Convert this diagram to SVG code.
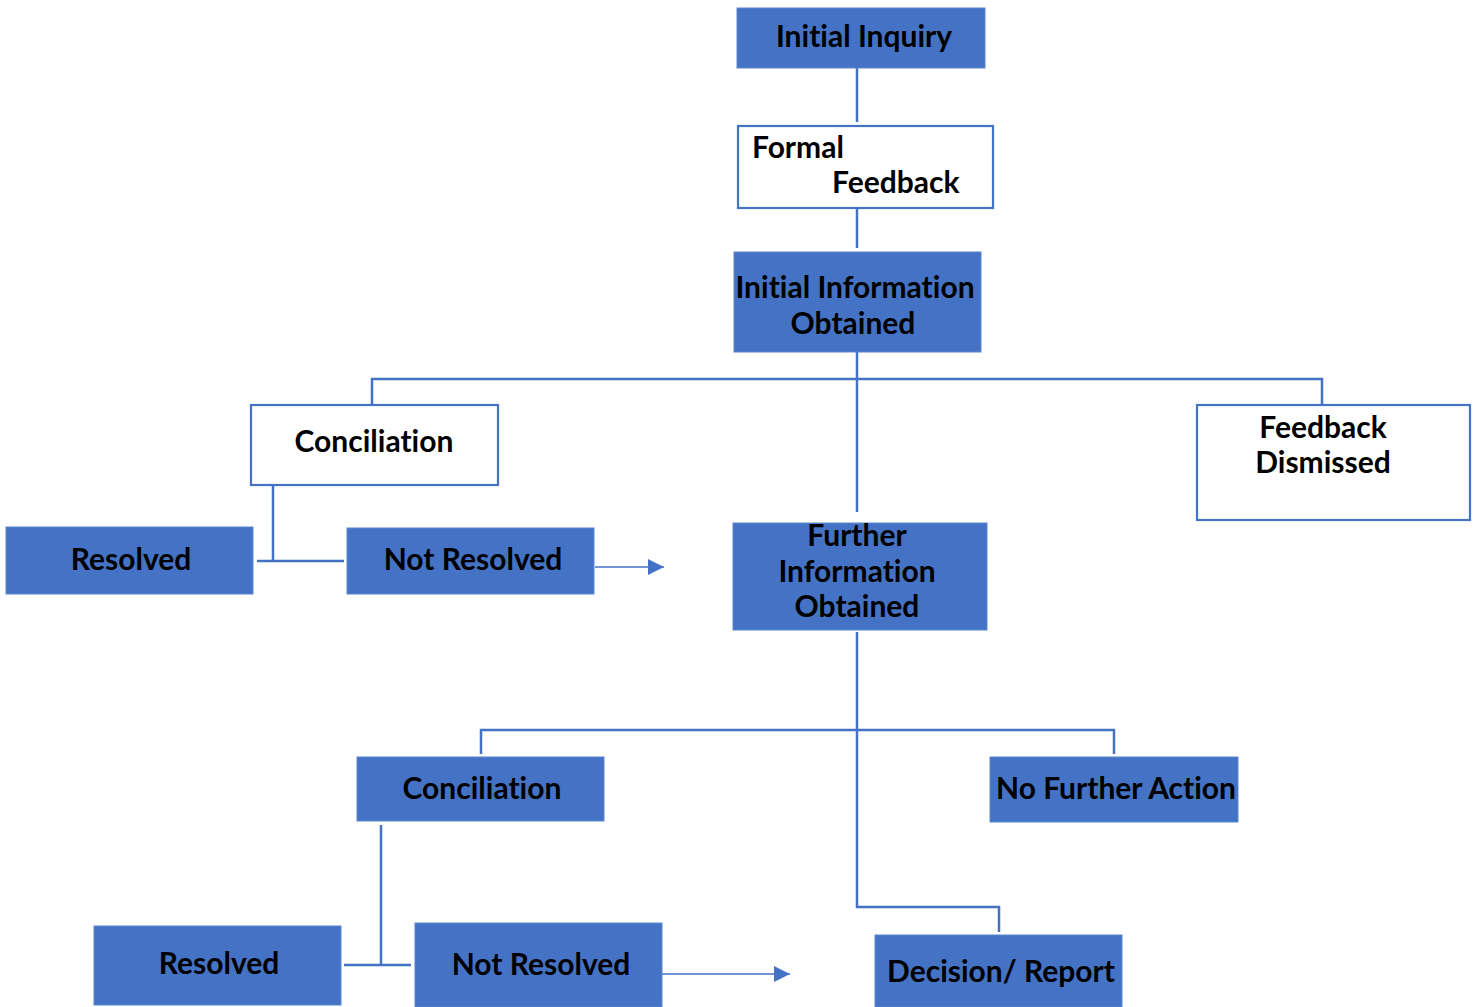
<svg xmlns="http://www.w3.org/2000/svg" width="1478" height="1007" viewBox="0 0 1478 1007">
<style>
.b{fill:#4472C4;stroke:#5B86CF;stroke-width:1}
.w{fill:#fff;stroke:#4472C4;stroke-width:2.2}
.t{font-family:Lato,"Open Sans",sans-serif;font-weight:bold;font-size:30px;fill:#000;font-variant-ligatures:none}
.c{text-anchor:middle}
.l{fill:none;stroke:#4472C4;stroke-width:2.5}
.a{fill:none;stroke:#4472C4;stroke-width:1.5}
</style>
<defs>
<marker id="ah2" viewBox="0 0 10 10" refX="10" refY="5" markerWidth="16" markerHeight="16" markerUnits="userSpaceOnUse" orient="auto">
<path d="M0,0 L10,5 L0,10 z" fill="#4472C4"/>
</marker>
</defs>
<g id="connectors">
<path class="l" d="M857,68 V122"/>
<path class="l" d="M857,208 V248"/>
<path class="l" d="M857,352 V512"/>
<path class="l" d="M372,405 V379 H1322 V405"/>
<path class="l" d="M273,481 V561 M257,561 H344"/>
<path class="a" d="M595,567 H664" marker-end="url(#ah2)"/>
<path class="l" d="M857,632 V907 H999 V932"/>
<path class="l" d="M481,754 V730 H1114 V754"/>
<path class="l" d="M381,825 V965 M344,965 H411"/>
<path class="a" d="M662,974 H790" marker-end="url(#ah2)"/>
</g>
<g id="initial-inquiry"><rect class="b" x="737" y="8" width="248" height="60"/><text class="t c" x="864" y="47">Initial Inquiry</text></g>
<g id="formal-feedback"><rect class="w" x="738" y="126" width="255" height="82"/><text class="t" x="752" y="158">Formal</text><text class="t" x="832" y="193">Feedback</text></g>
<g id="initial-information"><rect class="b" x="734" y="252" width="247" height="100"/><text class="t c" x="855" y="298">Initial Information</text><text class="t c" x="853" y="334">Obtained</text></g>
<g id="conciliation-1"><rect class="w" x="251" y="405" width="247" height="80"/><text class="t c" x="374" y="452">Conciliation</text></g>
<g id="feedback-dismissed"><rect class="w" x="1197" y="405" width="273" height="115"/><text class="t c" x="1323" y="438">Feedback</text><text class="t c" x="1323" y="473">Dismissed</text></g>
<g id="resolved-1"><rect class="b" x="6" y="527" width="247" height="67"/><text class="t c" x="131" y="570">Resolved</text></g>
<g id="not-resolved-1"><rect class="b" x="347" y="528" width="247" height="66"/><text class="t c" x="473" y="570">Not Resolved</text></g>
<g id="further-information"><rect class="b" x="733" y="523" width="254" height="107"/><text class="t c" x="857" y="546">Further</text><text class="t c" x="857" y="582">Information</text><text class="t c" x="857" y="617">Obtained</text></g>
<g id="conciliation-2"><rect class="b" x="357" y="757" width="247" height="64"/><text class="t c" x="482" y="799">Conciliation</text></g>
<g id="no-further-action"><rect class="b" x="990" y="757" width="248" height="65"/><text class="t c" x="1116" y="799">No Further Action</text></g>
<g id="resolved-2"><rect class="b" x="94" y="926" width="247" height="79"/><text class="t c" x="219" y="974">Resolved</text></g>
<g id="not-resolved-2"><rect class="b" x="415" y="923" width="247" height="84"/><text class="t c" x="541" y="975">Not Resolved</text></g>
<g id="decision-report"><rect class="b" x="875" y="935" width="247" height="72"/><text class="t c" x="1001" y="982">Decision/ Report</text></g>
</svg>
